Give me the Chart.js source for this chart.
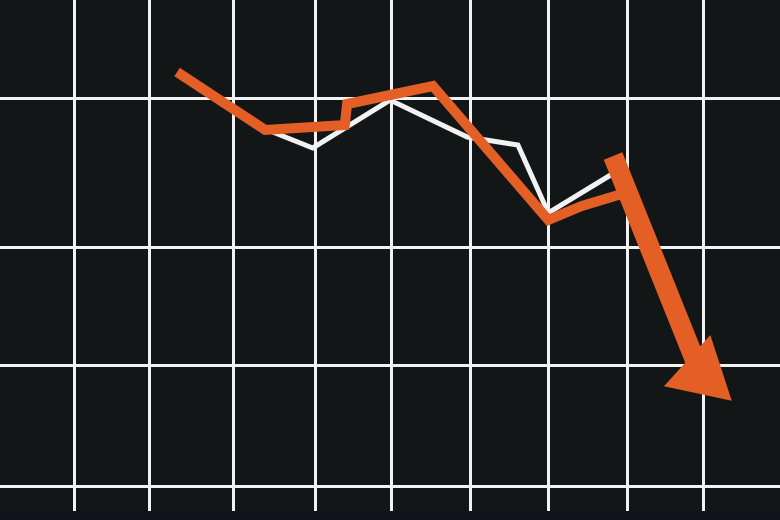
<!DOCTYPE html>
<html>
<head>
<meta charset="utf-8">
<script src="https://cdn.jsdelivr.net/npm/chart.js@4"></script>
<style>
  html, body { margin: 0; padding: 0; background: #10131d; }
  #wrap { width: 780px; height: 511px; background: #131617; }
</style>
</head>
<body>
<div id="wrap"><canvas id="trendChart"></canvas></div>
<script>
// grid positions (axis units)
const gridX = [0.95, 1.92, 2.99, 4.04, 5.02, 6.03, 7.03, 8.04, 9.02];
const gridY = [4.89, 28.57, 51.66, 80.72];

// white series
const whiteX = [3.40, 4.01, 5.00, 5.99, 6.64, 7.03, 7.85];
const whiteY = [74.76, 71.04, 80.43, 73.19, 71.62, 58.32, 65.95];

// orange series
const orangeX = [2.27, 3.40, 4.42, 4.45, 5.55, 7.03, 7.46, 7.97];
const orangeY = [85.91, 74.56, 75.54, 79.65, 83.17, 56.95, 59.69, 62.04];

// orange drop arrow
const arrowX = [7.86, 8.94];
const arrowY = [69.47, 28.38];
const headX = [9.0];
const headY = [26.81];

const ORANGE = '#e35f25';
const WHITE = '#f2f2f2';

const toPts = (xs, ys) => xs.map((x, i) => ({ x: x, y: ys[i] }));

document.addEventListener('DOMContentLoaded', () => {
    const ctx = document.getElementById('trendChart').getContext('2d');

    new Chart(ctx, {
        type: 'line',
        data: {
            datasets: [
                {
                    // arrow head
                    data: toPts(headX, headY),
                    showLine: false,
                    pointStyle: 'triangle',
                    pointRadius: 40,
                    pointRotation: 132,
                    pointBackgroundColor: ORANGE,
                    pointBorderWidth: 0,
                    borderColor: ORANGE,
                    clip: false
                },
                {
                    // arrow shaft
                    data: toPts(arrowX, arrowY),
                    borderColor: ORANGE,
                    borderWidth: 20,
                    borderCapStyle: 'butt',
                    pointRadius: 0
                },
                {
                    data: toPts(orangeX, orangeY),
                    borderColor: ORANGE,
                    borderWidth: 10,
                    borderJoinStyle: 'miter',
                    borderCapStyle: 'butt',
                    pointRadius: 0
                },
                {
                    data: toPts(whiteX, whiteY),
                    borderColor: WHITE,
                    borderWidth: 5,
                    borderJoinStyle: 'miter',
                    pointRadius: 0
                }
            ]
        },
        options: {
            responsive: true,
            maintainAspectRatio: false,
            animation: false,
            events: [],
            layout: { padding: 0, autoPadding: false },
            plugins: { legend: { display: false }, tooltip: { enabled: false } },
            scales: {
                x: {
                    type: 'linear',
                    min: 0,
                    max: 10,
                    afterBuildTicks: (axis) => { axis.ticks = gridX.map(v => ({ value: v })); },
                    ticks: { display: false },
                    border: { display: false },
                    grid: { color: WHITE, lineWidth: 3, drawTicks: false }
                },
                y: {
                    type: 'linear',
                    min: 0,
                    max: 100,
                    afterBuildTicks: (axis) => { axis.ticks = gridY.map(v => ({ value: v })); },
                    ticks: { display: false },
                    border: { display: false },
                    grid: { color: WHITE, lineWidth: 3, drawTicks: false }
                }
            }
        }
    });
});
</script>
</body>
</html>
